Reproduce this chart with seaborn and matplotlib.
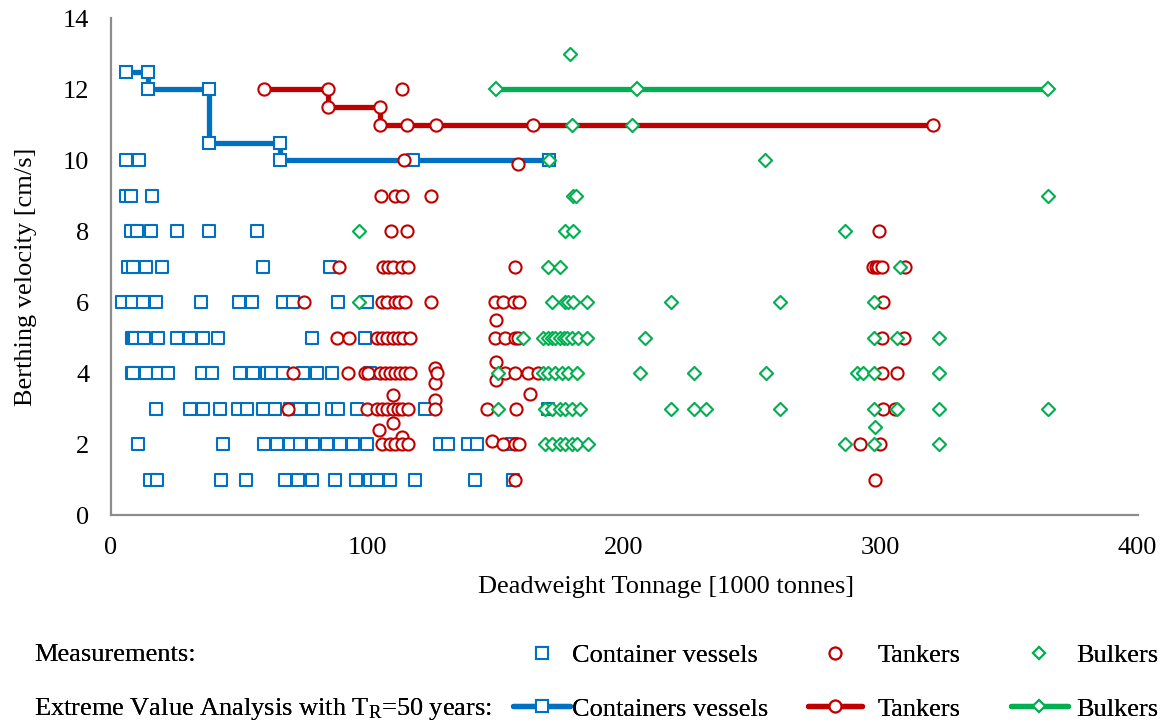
import numpy as np
import pandas as pd
import matplotlib
matplotlib.use("Agg")
import matplotlib.pyplot as plt
from matplotlib.lines import Line2D
import seaborn as sns

# ---------------- data ----------------
# Measurements: (deadweight tonnage [1000 t], berthing velocity [cm/s])
container_pts = [
    (5.8, 10), (11.2, 10), (117.9, 10),
    (6.0, 9), (8.0, 9), (16.2, 9),
    (7.8, 8), (10.1, 8), (15.6, 8), (25.8, 8), (38.4, 8), (56.9, 8),
    (6.6, 7), (8.6, 7), (13.8, 7), (19.9, 7), (59.5, 7), (85.4, 7),
    (4.3, 6), (8.2, 6), (12.5, 6), (17.6, 6), (35.1, 6), (50.1, 6), (54.9, 6),
    (67.2, 6), (71.1, 6), (88.4, 6), (99.7, 6),
    (8.2, 5), (8.8, 5), (9.5, 5), (13.1, 5), (18.5, 5), (25.7, 5), (30.9, 5),
    (36.1, 5), (41.9, 5), (78.5, 5), (99.1, 5),
    (8.2, 4), (8.8, 4), (13.8, 4), (18.5, 4), (22.4, 4), (35.5, 4), (39.3, 4),
    (50.4, 4), (55.6, 4), (60.8, 4), (62.5, 4), (67.2, 4), (75.0, 4), (80.2, 4),
    (86.1, 4), (101.0, 4),
    (17.6, 3), (30.9, 3), (36.1, 3), (42.6, 3), (49.7, 3), (53.0, 3), (59.4, 3),
    (64.0, 3), (69.8, 3), (73.7, 3), (78.9, 3), (86.1, 3), (88.7, 3), (95.8, 3),
    (122.4, 3), (170.5, 3),
    (10.8, 2), (43.9, 2), (59.7, 2), (64.7, 2), (69.8, 2), (73.7, 2), (78.9, 2),
    (84.1, 2), (89.3, 2), (94.5, 2), (99.7, 2), (128.3, 2), (131.5, 2),
    (139.3, 2), (142.6, 2), (156.2, 2),
    (15.3, 1), (17.9, 1), (42.8, 1), (52.7, 1), (67.9, 1), (73.1, 1), (78.3, 1),
    (87.4, 1), (95.6, 1), (101.0, 1), (103.6, 1), (108.8, 1), (118.5, 1),
    (141.9, 1), (156.8, 1),
]

tanker_pts = [
    (113.6, 12), (114.3, 10), (158.8, 9.9),
    (105.3, 9), (110.8, 9), (113.6, 9), (124.7, 9),
    (109.2, 8), (115.5, 8), (299.3, 8),
    (89.1, 7), (106.2, 7), (108.1, 7), (110.1, 7), (113.4, 7), (115.9, 7),
    (157.5, 7), (297.0, 7), (298.0, 7), (299.0, 7), (300.3, 7), (309.4, 7),
    (75.3, 6), (105.6, 6), (107.5, 6), (110.8, 6), (112.4, 6), (114.6, 6),
    (124.7, 6), (149.7, 6), (152.9, 6), (157.0, 6), (159.2, 6), (301.0, 6),
    (150.0, 5.5),
    (88.0, 5), (92.9, 5), (103.6, 5), (105.6, 5), (107.5, 5), (110.1, 5),
    (112.0, 5), (114.0, 5), (116.6, 5), (149.7, 5), (153.6, 5), (157.5, 5),
    (158.8, 5), (300.3, 5), (309.0, 5),
    (150.0, 4.33), (126.3, 4.14), (150.0, 3.81), (126.3, 3.72),
    (70.9, 4), (92.6, 4), (99.1, 4), (100.3, 4), (104.9, 4), (106.9, 4),
    (108.8, 4), (110.8, 4), (112.7, 4), (114.7, 4), (116.6, 4), (127.2, 4),
    (153.6, 4), (157.5, 4), (162.7, 4), (166.6, 4), (300.3, 4), (306.2, 4),
    (163.3, 3.41), (110.1, 3.39), (126.3, 3.25),
    (69.2, 3), (99.7, 3), (103.6, 3), (105.6, 3), (107.5, 3), (110.1, 3),
    (112.0, 3), (113.4, 3), (115.9, 3), (126.3, 3), (146.5, 3), (158.0, 3),
    (301.0, 3), (305.5, 3),
    (110.1, 2.59), (104.5, 2.4), (113.4, 2.2), (148.4, 2.1),
    (105.6, 2), (108.8, 2), (110.8, 2), (113.4, 2), (115.9, 2), (152.9, 2),
    (157.5, 2), (159.2, 2), (291.9, 2), (299.7, 2),
    (157.5, 1), (297.9, 1),
]

bulker_pts = [
    (178.9, 13),
    (179.6, 11), (203.2, 11),
    (170.9, 10), (255.0, 10),
    (180.2, 9), (181.3, 9), (365.3, 9),
    (96.9, 8), (177.0, 8), (180.2, 8), (285.9, 8),
    (170.5, 7), (175.0, 7), (307.5, 7),
    (96.7, 6), (171.8, 6), (177.0, 6), (178.3, 6), (180.2, 6), (185.7, 6),
    (218.3, 6), (260.9, 6), (297.4, 6),
    (160.5, 5), (168.5, 5), (170.5, 5), (172.0, 5), (173.1, 5), (175.0, 5),
    (176.5, 5), (177.6, 5), (179.6, 5), (182.2, 5), (185.7, 5), (208.1, 5),
    (297.4, 5), (306.2, 5), (322.7, 5),
    (151.0, 4), (168.5, 4), (170.5, 4), (173.1, 4), (175.7, 4), (178.3, 4),
    (181.5, 4), (206.2, 4), (227.2, 4), (255.3, 4), (290.6, 4), (293.2, 4),
    (297.4, 4), (322.7, 4),
    (151.0, 3), (169.2, 3), (171.8, 3), (175.0, 3), (177.0, 3), (179.6, 3),
    (182.8, 3), (218.3, 3), (227.2, 3), (231.9, 3), (260.9, 3), (297.4, 3),
    (306.4, 3), (322.7, 3), (365.0, 3),
    (297.8, 2.5),
    (169.2, 2), (171.8, 2), (175.0, 2), (177.0, 2), (179.6, 2), (181.5, 2),
    (186.1, 2), (285.9, 2), (297.4, 2), (322.7, 2),
]

# Extreme Value Analysis (T_R = 50 years) envelope lines
eva_container_x = [6.0, 14.7, 14.7, 38.2, 38.2, 66.0, 66.0, 170.9]
eva_container_y = [12.5, 12.5, 12.0, 12.0, 10.5, 10.5, 10.0, 10.0]
eva_tanker_x = [59.7, 84.8, 84.8, 104.9, 104.9, 115.3, 126.6, 164.6, 320.2]
eva_tanker_y = [12.0, 12.0, 11.5, 11.5, 11.0, 11.0, 11.0, 11.0, 11.0]
eva_bulker_x = [150.0, 205.0, 365.3]
eva_bulker_y = [12.0, 12.0, 12.0]

x_major_ticks = [0, 100, 200, 300, 400]
x_minor_ticks = [0, 20, 40, 60, 80, 100, 120, 140, 160, 180, 200, 220, 240,
                 260, 280, 300, 320, 340, 360, 380, 400]
y_ticks = [0, 2, 4, 6, 8, 10, 12, 14]

# ---------------- style ----------------
sns.set_style("white")
plt.rcParams['font.family'] = ['Liberation Serif', 'DejaVu Serif']
plt.rcParams['mathtext.fontset'] = 'custom'
plt.rcParams['mathtext.rm'] = 'Liberation Serif'
plt.rcParams['mathtext.it'] = 'Liberation Serif:italic'
plt.rcParams['text.color'] = 'black'
plt.rcParams['axes.labelcolor'] = 'black'
plt.rcParams['xtick.labelcolor'] = 'black'
plt.rcParams['ytick.labelcolor'] = 'black'

BLUE = '#0070C0'
RED = '#C00000'
GREEN = '#00B050'
GRAY = '#8C8C8C'
FS = 19

fig = plt.figure(figsize=(11.66, 7.24), dpi=100)
ax = fig.add_axes([0.0949, 0.2883, 0.8807, 0.6864])

# EVA lines (drawn underneath the measurement markers)
line_kw = dict(sort=False, estimator=None, lw=3.8, markersize=8.8,
               markerfacecolor='white', markeredgewidth=1.5, legend=False,
               ax=ax, zorder=2)
sns.lineplot(x=eva_container_x, y=eva_container_y, color=BLUE, marker='s',
             markeredgecolor=BLUE, **line_kw)
sns.lineplot(x=eva_tanker_x, y=eva_tanker_y, color=RED, marker='o',
             markeredgecolor=RED, **line_kw)
kwd = dict(line_kw)
kwd['markersize'] = 6.7
sns.lineplot(x=eva_bulker_x, y=eva_bulker_y, color=GREEN, marker='D',
             markeredgecolor=GREEN, **kwd)

# Measurements
df_c = pd.DataFrame(container_pts, columns=['dwt', 'v'])
df_t = pd.DataFrame(tanker_pts, columns=['dwt', 'v'])
df_b = pd.DataFrame(bulker_pts, columns=['dwt', 'v'])
sns.scatterplot(data=df_c, x='dwt', y='v', marker='s', s=78,
                facecolor='white', edgecolor=BLUE, linewidth=1.5, ax=ax, zorder=3)
sns.scatterplot(data=df_t, x='dwt', y='v', marker='o', s=76,
                facecolor='white', edgecolor=RED, linewidth=1.5, ax=ax, zorder=4)
sns.scatterplot(data=df_b, x='dwt', y='v', marker='D', s=45,
                facecolor='white', edgecolor=GREEN, linewidth=1.5, ax=ax, zorder=5)

# Axes
ax.set_xlim(0, 400)
ax.set_ylim(0, 14)
ax.set_xticks(x_major_ticks)
ax.set_xticks(x_minor_ticks, minor=True)
ax.set_yticks(y_ticks)
ax.set_xticklabels([str(t) for t in x_major_ticks])
ax.set_yticklabels([str(t) for t in y_ticks])
for s in ['top', 'right']:
    ax.spines[s].set_visible(False)
for s in ['left', 'bottom']:
    ax.spines[s].set_color(GRAY)
    ax.spines[s].set_linewidth(1.6)
ax.tick_params(axis='x', which='both', direction='inout', length=13,
               width=1.4, color=GRAY, labelsize=FS, pad=9, labelcolor='black')
ax.tick_params(axis='y', which='major', direction='out', length=7,
               width=1.4, color=GRAY, labelsize=FS, pad=8.5, labelcolor='black')
ax.grid(False)

ax.set_xlabel('Deadweight Tonnage [1000 tonnes]', fontsize=FS, color='black')
ax.set_ylabel('Berthing velocity [cm/s]', fontsize=FS, color='black')
ax.xaxis.set_label_coords(0.541, -0.122)
ax.yaxis.set_label_coords(-0.072, 0.4795)

# Legend (custom layout like the reference: 2 rows x 4 columns)
inv = Line2D([], [], linestyle='none')
mk = dict(markerfacecolor='white', markeredgewidth=1.5)
h_meas_c = Line2D([], [], linestyle='none', marker='s', markersize=8.6,
                  markeredgecolor=BLUE, **mk)
h_eva_c = Line2D([], [], color=BLUE, lw=3.8, marker='s', markersize=8.6,
                 markeredgecolor=BLUE, **mk)
h_meas_t = Line2D([], [], linestyle='none', marker='o', markersize=8.5,
                  markeredgecolor=RED, **mk)
h_eva_t = Line2D([], [], color=RED, lw=3.8, marker='o', markersize=8.5,
                 markeredgecolor=RED, **mk)
h_meas_b = Line2D([], [], linestyle='none', marker='D', markersize=6.5,
                  markeredgecolor=GREEN, **mk)
h_eva_b = Line2D([], [], color=GREEN, lw=3.8, marker='D', markersize=6.5,
                 markeredgecolor=GREEN, **mk)

ycen = 0.058
common = dict(loc='center left', frameon=False, fontsize=FS, borderpad=0,
              borderaxespad=0, labelspacing=1.15, handleheight=0.7,
              labelcolor='black')
legs = [
    ([inv, inv], ['Measurements:',
                  r'Extreme Value Analysis with T$_\mathregular{R}$=50 years:'],
     0.029, 0.0, 0.0),
    ([h_meas_c, h_eva_c], ['Container vessels', 'Containers vessels'],
     0.440, 2.16, 0.08),
    ([h_meas_t, h_eva_t], ['Tankers', 'Tankers'], 0.693, 2.05, 0.6),
    ([h_meas_b, h_eva_b], ['Bulkers', 'Bulkers'], 0.867, 2.15, 0.34),
]
for handles, labels, x0, hl, tp in legs:
    lg = fig.legend(handles, labels, bbox_to_anchor=(x0, ycen),
                    handlelength=hl, handletextpad=tp, **common)
    fig.add_artist(lg)

fig.savefig('out.png', dpi=100)
